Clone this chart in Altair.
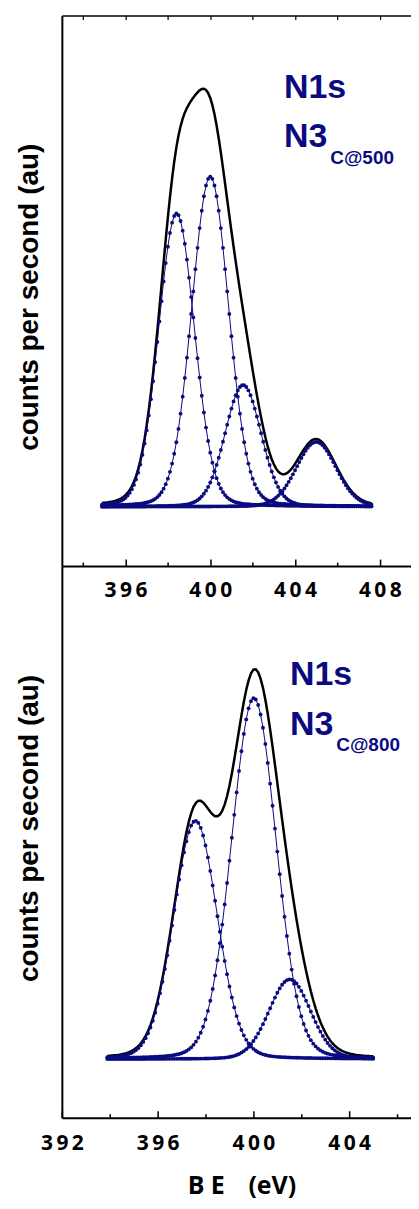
import altair as alt
import numpy as np
import pandas as pd

# ---------------- values ----------------
# upper panel : N1s of N3 C@500  (peak fit components, counts above background)
top_peak_center = [398.41, 400.00, 401.55, 405.00]   # BE (eV)
top_peak_height = [294, 331, 122, 65]                 # au
top_peak_fwhm = [2.00, 2.05, 2.00, 2.20]              # eV
top_be_range = [394.9, 407.6]

# lower panel : N1s of N3 C@800
bot_peak_center = [397.58, 400.02, 401.52]
bot_peak_height = [239, 362, 80]
bot_peak_fwhm = [2.15, 2.20, 2.05]
bot_be_range = [393.9, 405.0]

gl_mix = 0.1       # Lorentzian fraction of the fitted line shape
be_step = 0.1      # spacing of the fitted points (eV)

top_tick_labels = [396, 400, 404, 408]
top_ticks_minor = [394, 398, 402, 406]
top_ticks_border = [394, 396, 398, 400, 402, 404, 406, 408]
bot_tick_labels = [392, 396, 400, 404]
bot_ticks_minor = [394, 398, 402, 406]

NAVY = "#0b0b80"
FONT_LBL = "Liberation Sans"


def fit_frames(centers, heights, fwhms, be_range):
    E = np.round(np.arange(be_range[0], be_range[1] + 1e-9, be_step), 2)
    env = np.zeros_like(E)
    parts = []
    for i, (c, h, w) in enumerate(zip(centers, heights, fwhms)):
        u = (E - c) ** 2 / w ** 2
        v = h * ((1 - gl_mix) * np.exp(-4 * np.log(2) * u) + gl_mix / (1 + 4 * u))
        env = env + v
        parts.append(pd.DataFrame({"E": E, "I": v, "peak": f"p{i}"}))
    return pd.concat(parts, ignore_index=True), pd.DataFrame({"E": E, "I": env})


def panel(centers, heights, fwhms, be_range, xdom, ydom, labels, minors, W, H,
          texts_big, text_sub, title_y, label_pad, border=None, xtitle=None):
    df_c, df_e = fit_frames(centers, heights, fwhms, be_range)
    xs = alt.Scale(domain=xdom, nice=False, zero=False)
    ys = alt.Scale(domain=ydom, nice=False, zero=False)

    xaxis_kw = dict(orient="bottom", domain=True, domainColor="black", domainWidth=2,
                    ticks=False, tickSize=0, labels=True, values=labels,
                    labelFont="Open Sans", labelFontSize=21, labelFontWeight="bold",
                    labelColor="black", labelPadding=label_pad, labelFlush=False,
                    labelExpr="join(split(datum.label, ''), '\u2009')",
                    grid=False)
    if xtitle:
        xaxis_kw.update(title=xtitle, titleFont="Open Sans", titleFontSize=25,
                        titleFontWeight="bold", titleColor="black", titleY=76,
                        titleX=180, titleAlign="center",
                        titleBaseline="alphabetic")
    else:
        xaxis_kw.update(title=None)

    x_main = alt.X("E:Q", scale=xs, axis=alt.Axis(**xaxis_kw))
    y_main = alt.Y("I:Q", scale=ys, axis=alt.Axis(
        orient="left", domain=True, domainColor="black", domainWidth=2,
        ticks=False, labels=False, grid=False,
        title="counts per second (au)", titleFont="Liberation Sans",
        titleFontSize=28, titleFontWeight="bold", titleColor="black",
        titleAngle=270, titleX=-24.6, titleY=title_y,
        titleBaseline="alphabetic", titleAlign="center"))
    x_plain = alt.X("E:Q", scale=xs, axis=None)
    y_plain = alt.Y("I:Q", scale=ys, axis=None)

    env = alt.Chart(df_e).mark_line(color="black", strokeWidth=2.5).encode(x=x_main, y=y_main)
    comp_line = alt.Chart(df_c).mark_line(color=NAVY, strokeWidth=1).encode(
        x=x_plain, y=y_plain, detail="peak:N")
    comp_pts = alt.Chart(df_c).mark_circle(color=NAVY, size=15, opacity=1).encode(
        x=x_plain, y=y_plain)

    df_big = pd.DataFrame(texts_big, columns=["E", "I", "t"])
    df_sub = pd.DataFrame([text_sub], columns=["E", "I", "t"])
    txt_big = alt.Chart(df_big).mark_text(
        align="left", baseline="alphabetic", font=FONT_LBL, fontSize=34,
        fontWeight="bold", color=NAVY).encode(x=x_plain, y=y_plain, text="t:N")
    txt_sub = alt.Chart(df_sub).mark_text(
        align="left", baseline="alphabetic", font=FONT_LBL, fontSize=19,
        fontWeight="bold", color=NAVY).encode(x=x_plain, y=y_plain, text="t:N")

    def tick_layer(values, orient, offset, size, width, domain=False):
        d = pd.DataFrame({"E": values, "I": [0] * len(values)})
        return alt.Chart(d).mark_point(opacity=0, size=1).encode(
            x=alt.X("E:Q", scale=xs, axis=alt.Axis(
                orient=orient, offset=offset, values=values, tickSize=size,
                tickWidth=width, tickColor="black", labels=False, domain=domain,
                domainColor="black", domainWidth=1.5, grid=False, title=None)),
            y=y_plain)

    layers = [env, comp_line, comp_pts, txt_big, txt_sub,
              tick_layer(labels, "top", -H, 7, 1.5),
              tick_layer(minors, "top", -H, 4, 1.5)]
    if border:
        layers.append(tick_layer(border, "bottom", -H, 4, 1.2, domain=True))
    return alt.layer(*layers).resolve_axis(x="independent", y="independent").properties(
        width=W, height=H)


W = 350
top = panel(top_peak_center, top_peak_height, top_peak_fwhm, top_be_range,
            xdom=[393.0, 393.0 + W / 21.25], ydom=[-59.5, 492.5],
            labels=top_tick_labels, minors=top_ticks_minor, W=W, H=552,
            texts_big=[(403.48, 409.5, "N1s"), (403.48, 360.5, "N3")],
            text_sub=(405.66, 343.5, "C@500"), title_y=282, label_pad=13,
            border=top_ticks_border)
bottom = panel(bot_peak_center, bot_peak_height, bot_peak_fwhm, bot_be_range,
               xdom=[392.0, 392.0 + W / 24.0], ydom=[-58.7, 494.3],
               labels=bot_tick_labels, minors=bot_ticks_minor, W=W, H=553,
               texts_big=[(401.53, 375.3, "N1s"), (401.53, 325.3, "N3")],
               text_sub=(403.46, 309.3, "C@800"), title_y=262.5, label_pad=15,
               xtitle="B\u00a0E\u00a0\u00a0\u00a0\u2009(eV)")

chart = alt.vconcat(top, bottom, spacing=0, bounds="flush").properties(
    padding={"left": 7, "top": 5, "right": 0, "bottom": 2}
).configure_view(strokeWidth=0)

chart.save("out.html", embed_options={"renderer": "svg", "actions": False})
